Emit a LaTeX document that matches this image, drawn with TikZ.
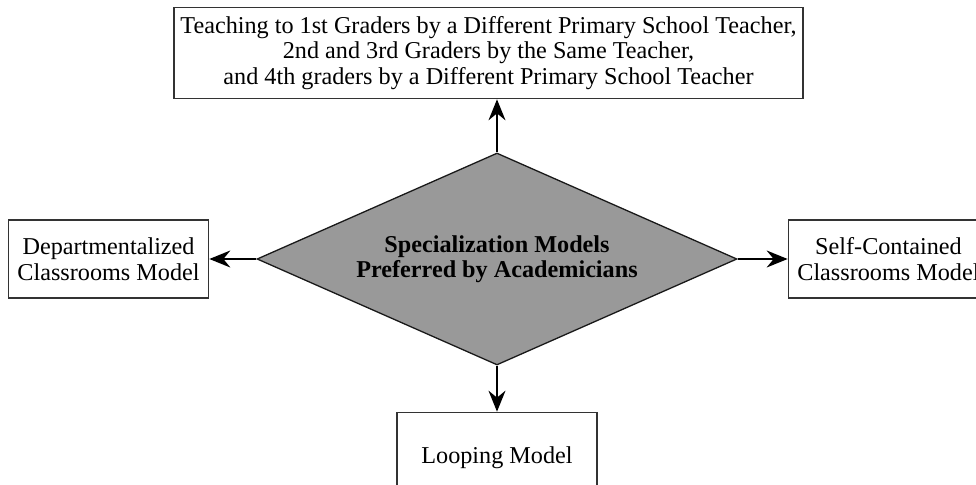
\documentclass[tikz,border=0pt]{standalone}
\usepackage{fontspec}
\setmainfont{Liberation Serif}
\usetikzlibrary{shapes.geometric,arrows.meta,positioning}
\tikzset{box/.style={draw=black!80, rectangle, line width=1.6pt, align=center, minimum width=200pt, minimum height=78pt, inner sep=2pt}}
\tikzset{choice/.style={draw=black!90, diamond, aspect=2.26, fill=black!40, line width=1.3pt, minimum width=480pt, minimum height=212pt, inner sep=0pt, align=center, font=\fontsize{24.2}{25.5}\selectfont\bfseries}}
\tikzset{line/.style={draw, line width=1.5pt, -{Stealth[length=21pt,width=17pt,inset=7pt]}}}

\begin{document}
\begin{tikzpicture}[font=\fontsize{24.2}{25.5}\selectfont]
\useasboundingbox (0,0) rectangle (976pt,-484pt);
\clip (0,0) rectangle (976pt,-484pt);

\node [choice] (spec) at (497pt,-259pt) {Specialization Models\\Preferred by Academicians};

\node [box, minimum width=629pt, minimum height=91pt, above=53pt of spec, xshift=-8.5pt] (grades) {Teaching to 1st Graders by a Different Primary School Teacher,\\2nd and 3rd Graders by the Same Teacher,\\and 4th graders by a Different Primary School Teacher};
\node [box, left=47pt of spec] (dept) {Departmentalized\\Classrooms Model};
\node [box, right=50pt of spec] (self) {Self-Contained\\Classrooms Model};
\node [box, minimum height=90pt, below=46pt of spec] (loop) {Looping Model};

%ARROWS FROM THE CENTRE
\path [line] (spec.north) -- (spec.north |- grades.south);
\path [line] (spec.west) -- (dept.east);
\path [line] (spec.east) -- (self.west);
\path [line] (spec.south) -- (loop.north);

\end{tikzpicture}
\end{document}
